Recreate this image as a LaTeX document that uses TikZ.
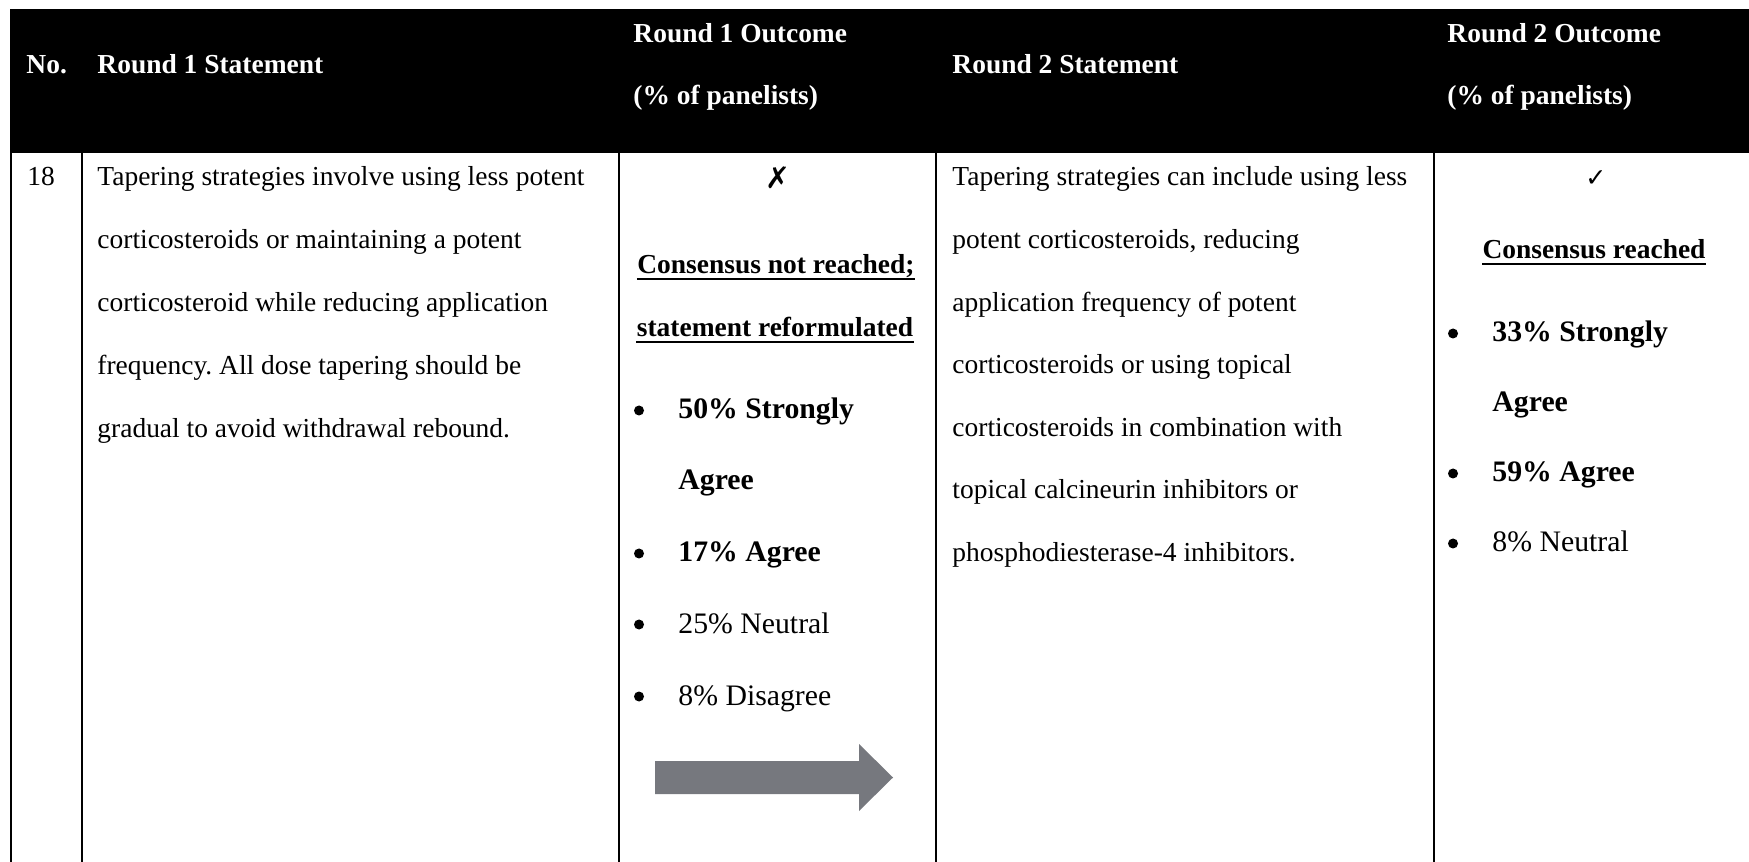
\documentclass[tikz,border=0pt]{standalone}
\usepackage{fontspec}
\setmainfont{Liberation Serif}
\newfontfamily\symfont{DejaVu Sans}
\usetikzlibrary{calc}
\frenchspacing
\definecolor{arrowgray}{RGB}{118,120,126}
\tikzset{
  cellbody/.style={anchor=base west, inner sep=0pt, font=\fontsize{12}{14}\selectfont},
  headtext/.style={anchor=base west, inner sep=0pt, text=white, font=\fontsize{12}{14}\selectfont\bfseries},
  bullettext/.style={anchor=base west, inner sep=0pt, font=\fontsize{13}{15}\selectfont},
  boldbullettext/.style={bullettext, font=\fontsize{13}{15}\selectfont\bfseries},
  verdicttext/.style={anchor=base, inner sep=0pt, font=\fontsize{12}{14}\selectfont\bfseries},
  marksym/.style={anchor=base, inner sep=0pt, font=\symfont\fontsize{11}{13}\selectfont},
  gridrule/.style={line width=1pt},
  ulinestyle/.style={line width=0.87pt},
  bulletdot/.style={fill=black},
}
\begin{document}
\begin{tikzpicture}[x=0.437pt, y=-0.437pt]
\useasboundingbox (0,0) rectangle (1749,862);
\clip (0,0) rectangle (1749,862);

% header band
\fill[black] (9.5,9) rectangle (1749,153);
\node[headtext] (hNo)  at (26,74)   {No.};
\node[headtext] (hR1s) at (97,74)   {Round 1 Statement};
\node[headtext] (hR1a) at (633,43)  {Round 1 Outcome};
\node[headtext] (hR1b) at (633,105) {(\% of panelists)};
\node[headtext] (hR2s) at (952,74)  {Round 2 Statement};
\node[headtext] (hR2a) at (1447,43) {Round 2 Outcome};
\node[headtext] (hR2b) at (1447,105){(\% of panelists)};

% column rules
\foreach \cx in {11,82,619,936,1434}
  \draw[gridrule] (\cx,153) -- (\cx,862);

% number
\node[cellbody] (num) at (27,186) {18};

% round 1 statement
\foreach \t [count=\i from 0] in {
  Tapering strategies involve using less potent,
  corticosteroids or maintaining a potent,
  corticosteroid while reducing application,
  frequency. All dose tapering should be,
  gradual to avoid withdrawal rebound.}
  \node[cellbody] (rA\i) at (97,{186+62.8*\i}) {\t};

% round 1 outcome
\node[marksym, font=\symfont\fontsize{13}{15}\selectfont] (xmark) at (778,189) {✗};
\node[verdicttext] (cn1) at (776,274) {Consensus not reached;};
\node[verdicttext] (cn2) at (775,337) {statement reformulated};
\draw[ulinestyle] ($(cn1.base west)+(0,5)$) -- ($(cn1.base east)+(0,5)$);
\draw[ulinestyle] ($(cn2.base west)+(0,5)$) -- ($(cn2.base east)+(0,5)$);

\node[boldbullettext] (b1a) at (678,419) {50\% Strongly};
\node[boldbullettext] (b1b) at (678,490) {Agree};
\node[boldbullettext] (b2)  at (678,562) {17\% Agree};
\node[bullettext] (b3) at (678,633) {25\% Neutral};
\node[bullettext] (b4) at (678,705) {8\% Disagree};
\foreach \by in {419,562,633,705}
  \fill[bulletdot] (639,\by-8.5) circle (5);

% block arrow
\fill[arrowgray] (655,761) -- (859,761) -- (859,744) -- (893,777.5)
  -- (859,811) -- (859,794) -- (655,794) -- cycle;

% round 2 statement
\foreach \t [count=\i from 0] in {
  Tapering strategies can include using less,
  {potent corticosteroids, reducing},
  application frequency of potent,
  corticosteroids or using topical,
  corticosteroids in combination with,
  topical calcineurin inhibitors or,
  phosphodiesterase-4 inhibitors.}
  \node[cellbody] (rB\i) at (952,{186+62.6*\i}) {\t};

% round 2 outcome
\node[marksym] (cmark) at (1596,187) {✓};
\node[verdicttext] (cr) at (1594,259) {Consensus reached};
\draw[ulinestyle] ($(cr.base west)+(0,5)$) -- ($(cr.base east)+(0,5)$);

\node[boldbullettext] (c1a) at (1492,342) {33\% Strongly};
\node[boldbullettext] (c1b) at (1492,412) {Agree};
\node[boldbullettext] (c2)  at (1492,482) {59\% Agree};
\node[bullettext] (c3) at (1492,552) {8\% Neutral};
\foreach \by in {342,482,552}
  \fill[bulletdot] (1453,\by-8.5) circle (5);
\end{tikzpicture}
\end{document}
